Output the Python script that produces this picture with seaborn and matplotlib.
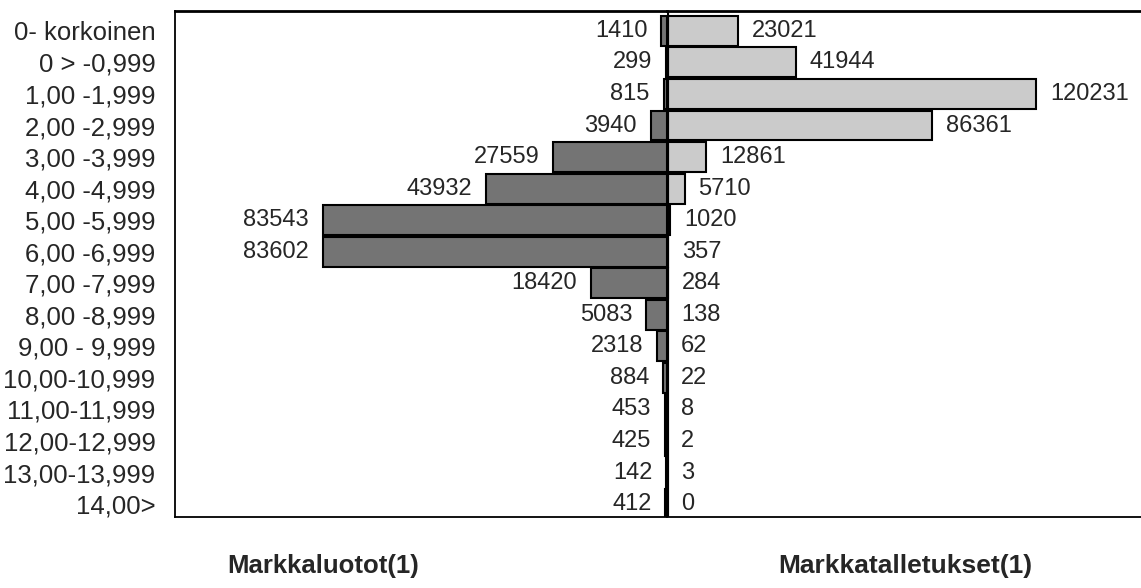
import numpy as np
import pandas as pd
import matplotlib
matplotlib.use("Agg")
import matplotlib.pyplot as plt
import seaborn as sns

# Korkoluokat (%) ja markkamaarat
luokat = ["0- korkoinen", "0 > -0,999", "1,00 -1,999", "2,00 -2,999", "3,00 -3,999",
          "4,00 -4,999", "5,00 -5,999", "6,00 -6,999", "7,00 -7,999", "8,00 -8,999",
          "9,00 - 9,999", "10,00-10,999", "11,00-11,999", "12,00-12,999",
          "13,00-13,999", "14,00>"]
luotot = [1410, 299, 815, 3940, 27559, 43932, 83543, 83602, 18420, 5083,
          2318, 884, 453, 425, 142, 412]
talletukset = [23021, 41944, 120231, 86361, 12861, 5710, 1020, 357, 284, 138,
               62, 22, 8, 2, 3, 0]

df = pd.DataFrame({"luokka": luokat, "luotot": luotot, "talletukset": talletukset})

sns.set_theme(style="white")
plt.rcParams['font.family'] = ['Liberation Sans', 'DejaVu Sans']

fig = plt.figure(figsize=(11.41, 5.88), dpi=100)
W, H = 1141, 588
cx = 667
axL = fig.add_axes([175 / W, 1 - 517 / H, (cx - 175) / W, 506 / H])
axR = fig.add_axes([cx / W, 1 - 517 / H, (W - cx) / W, 506 / H], sharey=axL)

sns.barplot(data=df, x="luotot", y="luokka", orient="h", ax=axL, color="#747474",
            edgecolor="black", linewidth=1.5, width=0.95, saturation=1)
sns.barplot(data=df, x="talletukset", y="luokka", orient="h", ax=axR, color="#cbcbcb",
            edgecolor="black", linewidth=1.5, width=0.95, saturation=1)

axL.set_xlim(119400, 0)
axR.set_xlim(0, 154500)
axL.set_ylim(15.41, -0.63)

axL.bar_label(axL.containers[0], labels=[str(v) for v in luotot], padding=10, fontsize=17)
axR.bar_label(axR.containers[0], labels=[str(v) for v in talletukset], padding=10, fontsize=17)

axR.axvline(0, color="black", lw=3)

for ax in (axL, axR):
    ax.set_xlabel("")
    ax.set_ylabel("")
    ax.set_xticks([])
    for s in ax.spines.values():
        s.set_color("black")
        s.set_linewidth(1.3)
axL.spines["right"].set_visible(False)
axR.spines["right"].set_visible(False)
axR.spines["left"].set_visible(False)
axL.spines["top"].set_linewidth(2)
axR.spines["top"].set_linewidth(2)

axL.tick_params(axis="y", length=0, pad=14, labelsize=18.5)
axR.tick_params(axis="y", length=0, labelleft=False)

fig.text(323 / W, 1 - 566 / H, "Markkaluotot(1)", ha="center", va="center",
         fontsize=18.5, fontweight="bold")
fig.text(905 / W, 1 - 566 / H, "Markkatalletukset(1)", ha="center", va="center",
         fontsize=19, fontweight="bold")

fig.savefig("out.png", dpi=100)
